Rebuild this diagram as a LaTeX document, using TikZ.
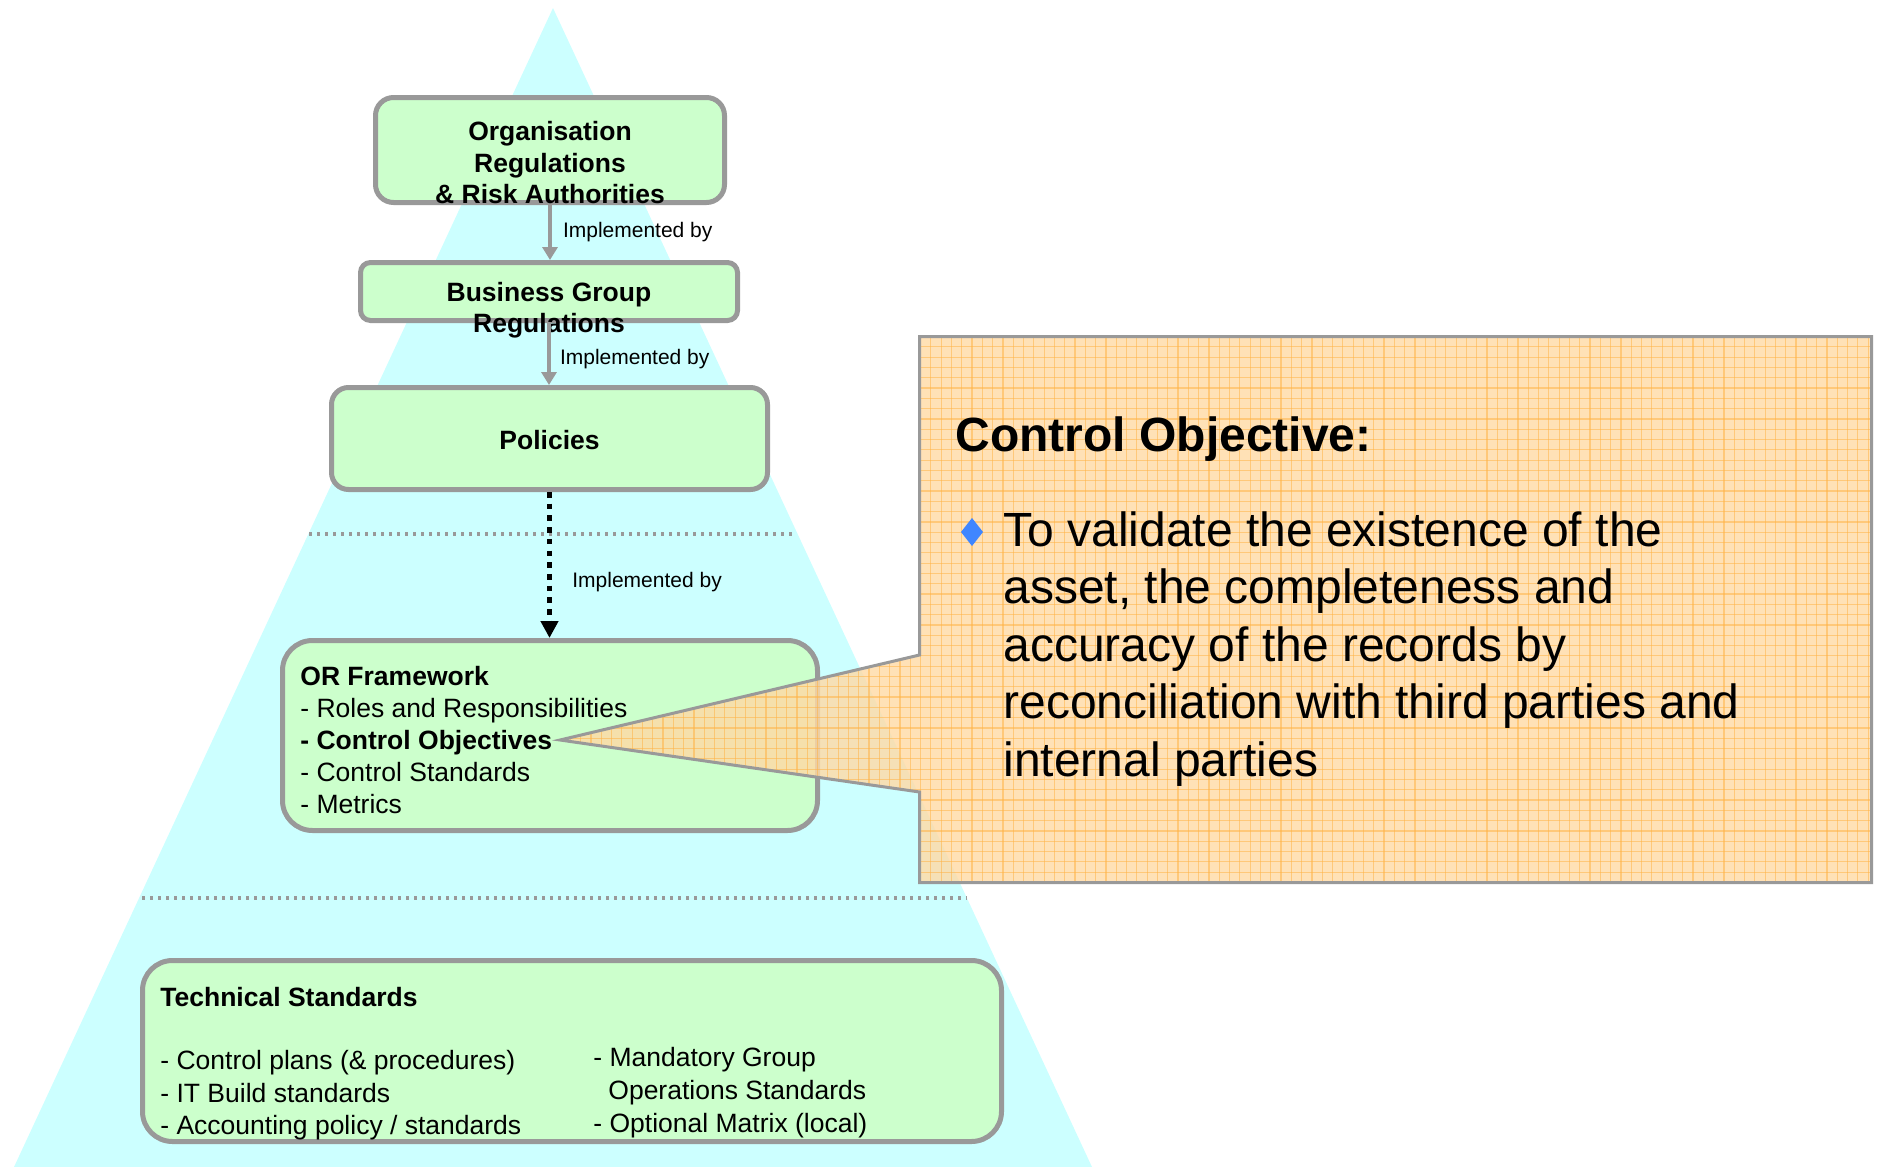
\documentclass[tikz,border=0pt]{standalone}
\usepackage{fontspec}
\setmainfont{Liberation Sans}
\usetikzlibrary{arrows.meta}

\definecolor{pyramid}{HTML}{CCFFFF}
\definecolor{boxfill}{HTML}{CCFFCC}
\definecolor{boxline}{HTML}{999999}
\definecolor{calloutfill}{HTML}{FFDAA6}
\definecolor{calloutgrid}{HTML}{FFB447}
\definecolor{bulletblue}{HTML}{3F86FF}

\tikzset{
  layerbox/.style={draw=boxline, fill=boxfill, line width=2.5pt, inner sep=0pt},
  boxtext/.style={inner sep=0pt, font=\fontsize{13.25pt}{15.75pt}\selectfont},
  titletext/.style={boxtext, font=\fontsize{13.25pt}{15.75pt}\selectfont\bfseries, align=center},
  listtext/.style={inner sep=0pt, align=left, anchor=west},
  flowlabel/.style={inner sep=0pt, anchor=west, font=\fontsize{10.5pt}{12pt}\selectfont},
  flow/.style={draw=boxline, line width=2pt, -{Triangle[width=7.5pt,length=6.5pt]}},
  dotflow/.style={draw=black, line width=2.9pt, dash pattern=on 2.8pt off 3.05pt,
    -{Triangle[width=8.5pt,length=8.5pt]}},
  sepline/.style={draw=boxline, line width=1.65pt, dash pattern=on 1.65pt off 2.35pt},
  gridline/.style={draw=calloutgrid, line width=0.6pt, draw opacity=0.55}
}

\begin{document}
\begin{tikzpicture}[x=0.5pt, y=-0.5pt]
  \useasboundingbox (0,0) rectangle (1881,1167);

  % pyramid background
  \fill[pyramid] (553,8) -- (1092,1167) -- (14,1167) -- cycle;

  % layer separators
  \draw[sepline] (309,534) -- (796,534);
  \draw[sepline] (142,898) -- (967,898);

  % layer boxes
  \node[layerbox, rounded corners=9pt, minimum width=174.5pt, minimum height=52.5pt] (org) at (550,150) {};
  \node[layerbox, rounded corners=5pt, minimum width=188.5pt, minimum height=29pt] (bg) at (549,291.5) {};
  \node[layerbox, rounded corners=8.5pt, minimum width=218pt, minimum height=51pt] (pol) at (549.5,438.5) {};
  \node[layerbox, rounded corners=15pt, minimum width=267.5pt, minimum height=95pt] (orf) at (550,735.5) {};
  \node[layerbox, rounded corners=15pt, minimum width=429.5pt, minimum height=90.5pt] (tech) at (572,1051) {};

  % box texts
  \node[titletext] (orgtext) at (550,163) {Organisation\\Regulations\\\& Risk Authorities};
  \node[titletext, font=\fontsize{13.25pt}{15.5pt}\selectfont\bfseries] (bgtext) at (549,310) {Business Group\\Regulations};
  \node[titletext] (poltext) at (549.5,440) {Policies};
  \node[boxtext, listtext, font=\fontsize{13.25pt}{16pt}\selectfont] (orftext) at (300,740)
    {\textbf{OR Framework}\\- Roles and Responsibilities\\\textbf{- Control Objectives}\\- Control Standards\\- Metrics};
  \node[boxtext, anchor=west, font=\fontsize{13.25pt}{16pt}\selectfont\bfseries] (techtitle) at (160,997) {Technical Standards};
  \node[boxtext, listtext, font=\fontsize{13.25pt}{16.25pt}\selectfont] (techleft) at (160,1095.5)
    {- Control plans (\& procedures)\\- IT Build standards\\- Accounting policy / standards};
  \node[boxtext, listtext, font=\fontsize{13.25pt}{16.5pt}\selectfont] (techright) at (593,1092.5)
    {- Mandatory Group\\\hspace*{7.5pt}Operations Standards\\- Optional Matrix (local)};

  % implementation links
  \draw[flow] (org.south) -- node[flowlabel, xshift=5.5pt] (imp1) {Implemented by} (org.south |- bg.north);
  \draw[flow] (bg.south) -- node[flowlabel, xshift=4.5pt, pos=0.58] (imp2) {Implemented by} (bg.south |- pol.north);
  \draw[dotflow] (pol.south) -- node[flowlabel, xshift=10pt, pos=0.62] (imp3) {Implemented by} (pol.south |- orf.north);

  % callout outline
  \coordinate (c1) at (919.5,336.5);
  \coordinate (c2) at (1871.5,336.5);
  \coordinate (c3) at (1871.5,882.5);
  \coordinate (c4) at (919.5,882.5);
  \coordinate (c5) at (919.5,792);
  \coordinate (tip) at (560,740);
  \coordinate (c6) at (919.5,655);

  \begin{scope}
    \fill[calloutfill, fill opacity=0.82] (c1) -- (c2) -- (c3) -- (c4) -- (c5) -- (tip) -- (c6) -- cycle;
    \clip (c1) -- (c2) -- (c3) -- (c4) -- (c5) -- (tip) -- (c6) -- cycle;
    \foreach \gx in {560,570.3,...,1880} \draw[gridline] (\gx,330) -- (\gx,890);
    \foreach \gy in {336.5,346.8,...,890} \draw[gridline] (550,\gy) -- (1880,\gy);
  \end{scope}
  \draw[boxline, line width=1.5pt] (c1) -- (c2) -- (c3) -- (c4) -- (c5) -- (tip) -- (c6) -- cycle;

  % callout text
  \node[inner sep=0pt, anchor=west, font=\fontsize{24pt}{28.8pt}\selectfont\bfseries] (cotitle) at (955,439) {Control Objective:};
  \fill[bulletblue] (972,518) -- (983,532) -- (972,546) -- (961,532) -- cycle;
  \node[inner sep=0pt, anchor=north west, align=left, font=\fontsize{24pt}{28.8pt}\selectfont] (cobody) at (1003,511)
    {To validate the existence of the\\asset, the completeness and\\accuracy of the records by\\reconciliation with third parties and\\internal parties};
\end{tikzpicture}
\end{document}
